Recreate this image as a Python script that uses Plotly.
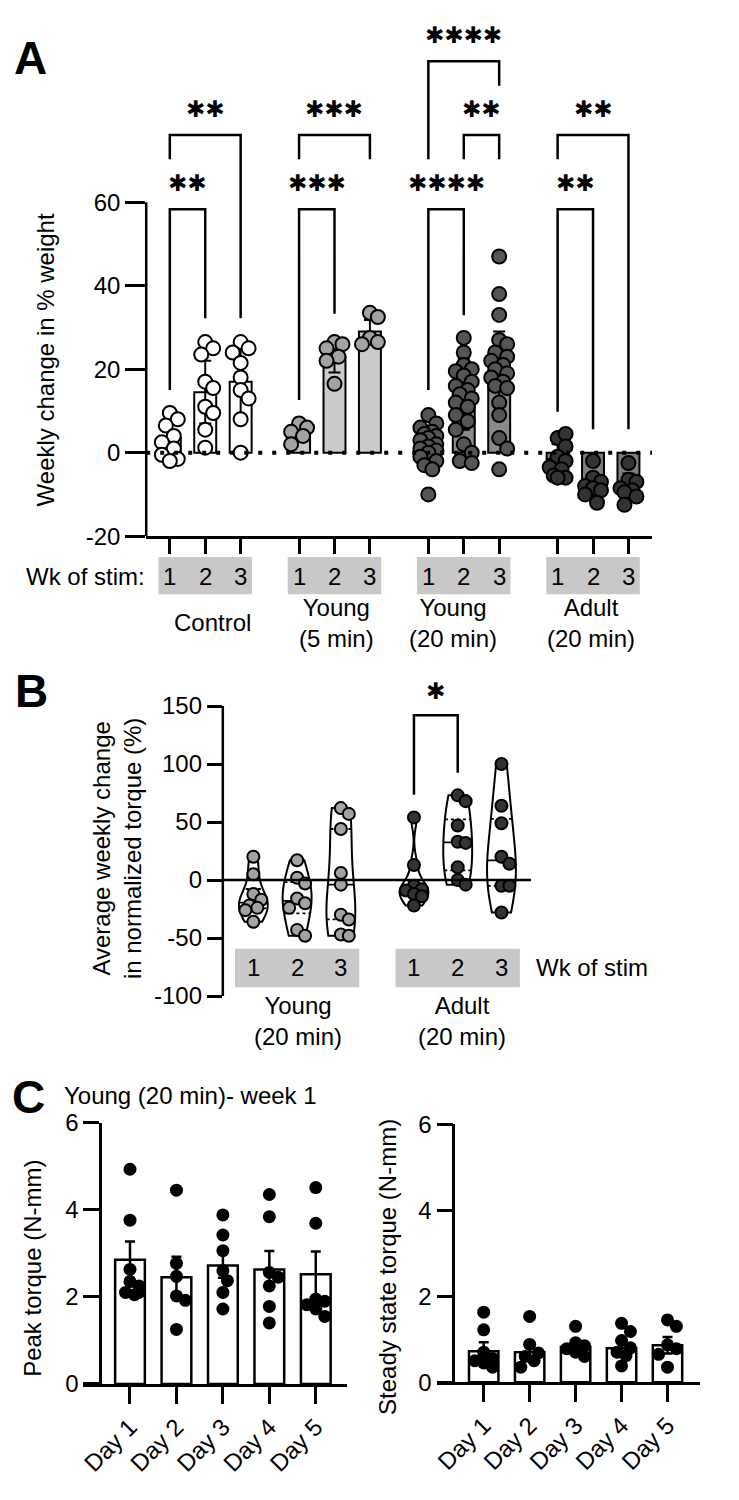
import numpy as np
import plotly.graph_objects as go

W, H = 739, 1500
FONT = "Liberation Sans, Arial, Helvetica, sans-serif"
STARFONT = "DejaVu Sans"
FS = 24

# ---------------- Panel A: weekly change in % weight ----------------
a_group_labels = ["Control", "Young<br>(5 min)", "Young<br>(20 min)", "Adult<br>(20 min)"]
a_week_labels = ["1", "2", "3"]
a_ticks = [-20, 0, 20, 40, 60]
a_tick_text = ["-20", "0", "20", "40", "60"]

ctrl_w1 = [9.5, 8, 6.5, 4, 2.5, 1, -0.5, -1.5, -2]
ctrl_w2 = [26.5, 25, 23.5, 17, 15.5, 11, 9.5, 5.5, 1.2]
ctrl_w3 = [26.5, 25, 24, 21.5, 18, 15, 13, 8, 0]
y5_w1 = [7, 6, 5, 4, 2]
y5_w2 = [26.5, 26, 25, 23, 22, 16.5]
y5_w3 = [33.5, 32.5, 27.5, 26.5, 26]
y20_w1 = [9, 7, 6, 5, 4.5, 4, 3.5, 3, 2, 1.5, 1, 0.5, 0, -1, -2, -3, -4, -10]
y20_w2 = [27.5, 24, 21, 20, 19.5, 18.5, 17, 16, 15, 14, 13, 12, 11, 9, 7.5, 5.5, 2, 0, -2, -2.5]
y20_w3 = [47, 38, 33, 27, 26, 24, 23, 22, 21, 20, 19, 18, 17, 16, 15.5, 12, 9, 3.5, 1, -4]
ad_w1 = [3.5, 4.5, 1.5, -1, -2, -3.5, -4, -5.5, -6, -6]
ad_w2 = [-2, -6, -7, -8, -8.5, -9, -10, -12]
ad_w3 = [-2.5, -6.5, -7, -8.5, -9, -9.5, -10.5, -12.5]

a_mean = [3.5, 14.5, 17, 4.5, 23, 29, 1.5, 14, 19, -1.5, -8, -8]
a_sd = [4, 7.5, 8, 1.8, 3.8, 2.8, 4.5, 8.5, 10, 3.5, 3, 3]

# brackets: (bar i, bar j, left leg bottom, right leg bottom, top, label)
a_brackets = [
    (0, 1, 15, 32.2, 58.3, "**"),
    (0, 2, 70.3, 32.2, 76.1, "**"),
    (3, 4, 12.6, 33.3, 58.3, "***"),
    (3, 5, 70.3, 70.3, 76.1, "***"),
    (6, 7, 15, 32.9, 58.3, "****"),
    (7, 8, 70.3, 70.3, 76.1, "**"),
    (6, 8, 70.3, 87.9, 93.8, "****"),
    (9, 10, 9.8, 5.6, 58.3, "**"),
    (9, 11, 70.3, 5.6, 76.1, "**"),
]

# ---------------- Panel B: normalized torque change ----------------
b_group_labels = ["Young<br>(20 min)", "Adult<br>(20 min)"]
b_ticks = [-100, -50, 0, 50, 100, 150]
b_tick_text = ["-100", "-50", "0", "50", "100", "150"]
yb_w1 = [20, 5, -12, -17, -22, -24, -26, -36]
yb_w2 = [17, 2, -3, -16, -20, -24, -43, -48]
yb_w3 = [62, 57, 44, 6, -4, -30, -34, -47, -48]
ab_w1 = [54, 13, -5, -8, -9, -12, -14, -22]
ab_w2 = [73, 68, 47, 33, 32, 11, 0, -4]
ab_w3 = [100, 64, 49, 20, 14, -5, -5, -28]
b_brackets = [(3, 4, 73.5, 92.4, 142.1, "*")]

# ---------------- Panel C: torque by day ----------------
c_days = ["Day 1", "Day 2", "Day 3", "Day 4", "Day 5"]
c_ticks = [0, 2, 4, 6]
peak_d1 = [4.93, 3.76, 2.63, 2.35, 2.25, 2.1, 2.05, 2.1]
peak_d2 = [4.45, 2.77, 2.47, 2.02, 1.92, 1.25]
peak_d3 = [3.88, 3.42, 3.06, 2.6, 2.37, 2.1, 1.72]
peak_d4 = [4.35, 3.84, 2.56, 2.45, 2.25, 1.78, 1.4]
peak_d5 = [4.51, 3.69, 1.95, 1.9, 1.82, 1.72, 1.55]
peak_mean = [2.85, 2.45, 2.72, 2.63, 2.52]
peak_sem = [0.42, 0.47, 0.28, 0.42, 0.52]
ss_d1 = [1.63, 1.22, 0.7, 0.55, 0.5, 0.45, 0.35]
ss_d2 = [1.53, 0.88, 0.68, 0.6, 0.5, 0.35]
ss_d3 = [1.3, 0.92, 0.85, 0.78, 0.7, 0.6]
ss_d4 = [1.37, 1.18, 0.97, 0.8, 0.7, 0.62, 0.38]
ss_d5 = [1.45, 1.3, 0.87, 0.78, 0.65, 0.35]
ss_mean = [0.72, 0.70, 0.82, 0.79, 0.86]
ss_sem = [0.21, 0.20, 0.07, 0.16, 0.19]


def P(x):
    return x / W


def Q(y):
    return 1 - y / H


def swarm(vals, ppu_x, ppu_y, diam, maxoff, step=4.0):
    placed, offs = [], []
    cands = [0.0]
    k = 1
    while k * step <= maxoff + 1e-9:
        cands += [k * step, -k * step]
        k += 1
    for v in vals:
        yp = v * ppu_y
        best, bestd = 0.0, -1.0
        for c in cands:
            d = min([np.hypot(c - a, yp - b) for a, b in placed], default=1e9)
            if d >= diam * 0.85:
                best, bestd = c, d
                break
            if d > bestd:
                best, bestd = c, d
        placed.append((best, yp))
        offs.append(best / ppu_x)
    return offs


def kde_half(vals, ys, width):
    v = np.asarray(vals, float)
    n = len(v)
    q1, q3 = np.percentile(v, [25, 75])
    ssd = v.std(ddof=1)
    a = min(ssd, (q3 - q1) / 1.349) if q3 > q1 else ssd
    bw = 1.059 * a * n ** -0.2
    grid = np.linspace(v.min(), v.max(), 400)

    def dens(t):
        t = np.atleast_1d(np.asarray(t, float))
        return np.exp(-0.5 * ((t[None, :] - v[:, None]) / bw) ** 2).sum(0)

    return 0.5 * width * dens(ys) / dens(grid).max()


fig = go.Figure()
shapes, annos = [], []


def txt(x, y, s, size=FS, xanchor="center", yanchor="middle", bold=False,
        angle=0, xref="paper", yref="paper", family=FONT):
    annos.append(dict(x=x, y=y, xref=xref, yref=yref, text=("<b>%s</b>" % s) if bold else s,
                      showarrow=False, xanchor=xanchor, yanchor=yanchor, textangle=angle,
                      font=dict(family=family, size=size, color="black")))


def bracket(xr, yr, x1, x2, yl, yrb, top, label, star_size=23, gap=6.2):
    shapes.append(dict(type="path", xref=xr, yref=yr,
                       path="M %f,%f L %f,%f L %f,%f L %f,%f" % (x1, yl, x1, top, x2, top, x2, yrb),
                       line=dict(color="black", width=2.5)))
    txt((x1 + x2) / 2, top + gap, label.replace("*", "\u2731"), size=star_size,
        xref=xr, yref=yr, family=STARFONT)


# ===== Panel A =====
a_x = [g * 3.65 + w for g in range(4) for w in range(3)]
a_pts = [ctrl_w1, ctrl_w2, ctrl_w3, y5_w1, y5_w2, y5_w3,
         y20_w1, y20_w2, y20_w3, ad_w1, ad_w2, ad_w3]
grp_fill = ["white", "#cbcbcb", "#8a8a8a", "#7d7d7d"]
grp_pt = ["white", "#a3a3a3", "#555555", "#333333"]

fig.add_trace(go.Bar(x=a_x, y=a_mean, width=0.62,
                     marker=dict(color=[grp_fill[i // 3] for i in range(12)],
                                 line=dict(color="black", width=2)),
                     error_y=dict(type="data", array=a_sd, color="black", thickness=2, width=6),
                     xaxis="x", yaxis="y", showlegend=False, hoverinfo="skip"))
for i, pts in enumerate(a_pts):
    offs = swarm(pts, 35.6, 4.25, 15, 8)
    fig.add_trace(go.Scatter(x=[a_x[i] + o for o in offs], y=pts, mode="markers",
                             marker=dict(size=14, color=grp_pt[i // 3], line=dict(color="black", width=2)),
                             xaxis="x", yaxis="y", showlegend=False, hoverinfo="skip"))

# dotted zero line and manual y axis line
shapes.append(dict(type="line", xref="x", yref="y", x0=-0.666, x1=13.62, y0=0, y1=0,
                   line=dict(color="black", width=4, dash="4px,10px")))
shapes.append(dict(type="line", xref="paper", yref="y", x0=P(143), x1=P(143), y0=-20, y1=60,
                   line=dict(color="black", width=2.5)))
for (i, j, yl, yrb, top, lab) in a_brackets:
    bracket("x", "y", a_x[i], a_x[j], yl, yrb, top, lab)

# week boxes / labels
for g in range(4):
    c = a_x[g * 3 + 1]
    shapes.append(dict(type="rect", xref="x", yref="paper", x0=c - 1.32, x1=c + 1.32,
                       y0=Q(591), y1=Q(553), fillcolor="#c8c8c8", line=dict(width=0), layer="below"))
    for w in range(3):
        txt(a_x[g * 3 + w], Q(573), a_week_labels[w], xref="x")
txt(P(20), Q(573), "Wk of stim:", xanchor="left")
for lab, xc in zip(a_group_labels, [210, 334, 451, 590]):
    txt(P(xc), Q(620), lab)
txt(P(42), Q(352), "Weekly change in % weight", angle=-90)
txt(P(27), Q(45), "A", size=46, bold=True)

# ===== Panel B =====
b_x = [0, 1, 2, 3.67, 4.67, 5.67]
b_pts = [yb_w1, yb_w2, yb_w3, ab_w1, ab_w2, ab_w3]
b_pt_col = ["#a3a3a3"] * 3 + ["#333333"] * 3
VW = 0.66
for i, pts in enumerate(b_pts):
    fig.add_trace(go.Violin(y=pts, x0=b_x[i], width=VW, spanmode="hard", points=False,
                            fillcolor="white", line=dict(color="black", width=2),
                            xaxis="x2", yaxis="y2", showlegend=False, hoverinfo="skip"))
    q1, med, q3 = np.percentile(pts, [25, 50, 75])
    hw = kde_half(pts, [q1, med, q3], VW)
    for yy, h, d in zip([q1, med, q3], hw, ["dot", "dash", "dot"]):
        fig.add_trace(go.Scatter(x=[b_x[i] - h, b_x[i] + h], y=[yy, yy], mode="lines",
                                 line=dict(color="black", width=1.8, dash=d),
                                 xaxis="x2", yaxis="y2", showlegend=False, hoverinfo="skip"))
for i, pts in enumerate(b_pts):
    offs = swarm(pts, 44, 1.18, 13, 8)
    fig.add_trace(go.Scatter(x=[b_x[i] + o for o in offs], y=pts, mode="markers",
                             marker=dict(size=12, color=b_pt_col[i], line=dict(color="black", width=2)),
                             xaxis="x2", yaxis="y2", showlegend=False, hoverinfo="skip"))
shapes.append(dict(type="line", xref="x2", yref="y2", x0=-0.698, x1=6.348, y0=0, y1=0,
                   line=dict(color="black", width=2.5)))
shapes.append(dict(type="line", xref="paper", yref="y2", x0=P(220), x1=P(220), y0=-100, y1=150,
                   line=dict(color="black", width=2.5)))
for (i, j, yl, yrb, top, lab) in b_brackets:
    bracket("x2", "y2", b_x[i], b_x[j], yl, yrb, top, lab, gap=21)
for g in range(2):
    c = b_x[g * 3 + 1]
    shapes.append(dict(type="rect", xref="x2", yref="paper", x0=c - 1.42, x1=c + 1.42,
                       y0=Q(991), y1=Q(952), fillcolor="#c8c8c8", line=dict(width=0), layer="below"))
    for w in range(3):
        txt(b_x[g * 3 + w], Q(971), a_week_labels[w], xref="x2")
txt(P(533), Q(971), "Wk of stim", xanchor="left")
for lab, xc in zip(b_group_labels, [296, 460]):
    txt(P(xc), Q(1025), lab)
txt(P(113), Q(850), "Average weekly change<br>in normalized torque (%)", angle=-90)
txt(P(28), Q(689), "B", size=46, bold=True)

# ===== Panel C =====
c_x = [0, 1, 2, 3, 4]
for (xa, ya, pts_list, mean, sem) in [("x3", "y3", [peak_d1, peak_d2, peak_d3, peak_d4, peak_d5], peak_mean, peak_sem),
                                      ("x4", "y4", [ss_d1, ss_d2, ss_d3, ss_d4, ss_d5], ss_mean, ss_sem)]:
    fig.add_trace(go.Bar(x=c_x, y=mean, width=0.64,
                         marker=dict(color="white", line=dict(color="black", width=2.5)),
                         error_y=dict(type="data", array=sem, color="black", thickness=2.5, width=5),
                         xaxis=xa, yaxis=ya, showlegend=False, hoverinfo="skip"))
    for i, pts in enumerate(pts_list):
        offs = swarm(pts, 46.5, 44, 13, 9, step=4.5)
        fig.add_trace(go.Scatter(x=[c_x[i] + o for o in offs], y=pts, mode="markers",
                                 marker=dict(size=13, color="black"),
                                 xaxis=xa, yaxis=ya, showlegend=False, hoverinfo="skip"))
txt(P(25), Q(1103), "C", size=46, bold=True)
txt(P(58), Q(1101), "Young (20 min)- week 1", xanchor="left")
txt(P(28), Q(1277), "Peak torque (N-mm)", angle=-90)
txt(P(385), Q(1276), "Steady state torque (N-mm)", angle=-90)

tickfont = dict(family=FONT, size=FS, color="black")
base = dict(showgrid=False, zeroline=False, linecolor="black", linewidth=2.5,
            tickcolor="black", tickwidth=2.5, tickfont=tickfont)

fig.update_layout(
    width=W, height=H, margin=dict(l=0, r=0, t=0, b=0, pad=0),
    paper_bgcolor="white", plot_bgcolor="rgba(0,0,0,0)",
    violinmode="overlay", showlegend=False,
    font=dict(family=FONT, size=FS, color="black"),
    xaxis=dict(domain=[P(143), P(651.7)], range=[-0.666, 13.62], anchor="y", showline=True,
               ticks="outside", ticklen=15, tickvals=a_x, showticklabels=False, **base),
    yaxis=dict(domain=[Q(531.7), Q(10)], range=[-20, 102.75], anchor="x", showline=False,
               ticks="outside", ticklen=20, tickvals=a_ticks, ticktext=a_tick_text, **base),
    xaxis2=dict(domain=[P(220), P(530)], range=[-0.698, 6.348], anchor="y2", visible=False),
    yaxis2=dict(domain=[Q(1000), Q(680)], range=[-100, 170.93], anchor="x2", showline=False,
                ticks="outside", ticklen=15, tickvals=b_ticks, ticktext=b_tick_text, **base),
    xaxis3=dict(domain=[P(79), P(345)], range=[-1.021, 4.675], anchor="y3", showline=True,
                ticks="outside", ticklen=17, tickvals=c_x, ticktext=c_days, tickangle=-45, **base),
    yaxis3=dict(domain=[Q(1395), Q(1129)], range=[0, 6], anchor="free", position=P(96.7),
                showline=True, ticks="outside", ticklen=16, tickvals=c_ticks, **base),
    xaxis4=dict(domain=[P(435), P(700)], range=[-1.024, 4.712], anchor="y4", showline=True,
                ticks="outside", ticklen=17, tickvals=c_x, ticktext=c_days, tickangle=-45, **base),
    yaxis4=dict(domain=[Q(1393.3), Q(1130.7)], range=[0, 6], anchor="free", position=P(451.7),
                showline=True, ticks="outside", ticklen=16, tickvals=c_ticks, **base),
    shapes=shapes, annotations=annos,
)

fig.write_html("out.html", config={"displayModeBar": False},
               post_script="document.body.style.margin='0';")
